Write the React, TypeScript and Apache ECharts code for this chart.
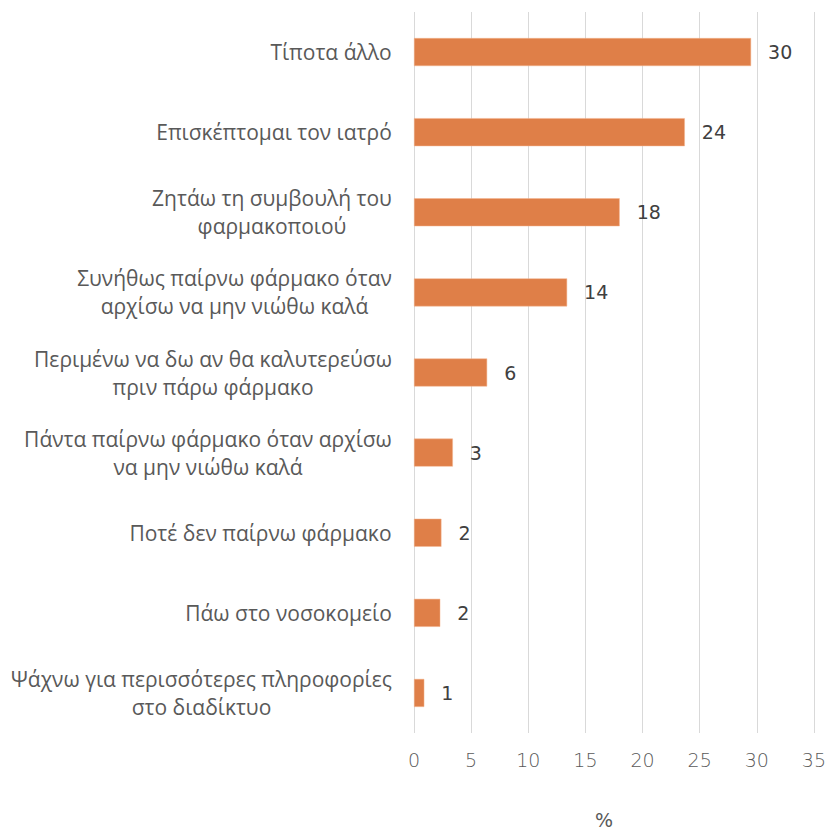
import React, { useEffect, useRef } from "react";
import * as echarts from "echarts";

const categories = [
  "Τίποτα άλλο",
  "Επισκέπτομαι τον ιατρό",
  "Ζητάω τη συμβουλή του\nφαρμακοποιού",
  "Συνήθως παίρνω φάρμακο όταν\nαρχίσω να μην νιώθω καλά",
  "Περιμένω να δω αν θα καλυτερεύσω\nπριν πάρω φάρμακο",
  "Πάντα παίρνω φάρμακο όταν αρχίσω\nνα μην νιώθω καλά",
  "Ποτέ δεν παίρνω φάρμακο",
  "Πάω στο νοσοκομείο",
  "Ψάχνω για περισσότερες πληροφορίες\nστο διαδίκτυο",
];
const values = [29.5, 23.7, 18.0, 13.4, 6.4, 3.4, 2.4, 2.3, 0.9];
const valueLabels = ["30", "24", "18", "14", "6", "3", "2", "2", "1"];
const xTicks = { min: 0, max: 35, interval: 5 };
const axisName = "%";

const CAT_SIZE = 21;
const CAT_FONT = `${CAT_SIZE}px "Open Sans"`;

function measure(text: string): number {
  const c = document.createElement("canvas").getContext("2d");
  if (!c) return text.length * 10;
  c.font = CAT_FONT;
  return c.measureText(text).width;
}

export default function App() {
  const ref = useRef<HTMLDivElement>(null);
  useEffect(() => {
    if (!ref.current) return;
    const chart = echarts.init(ref.current, null, { renderer: "svg" });
    const rich: Record<string, any> = {};
    const keyOf: Record<string, string> = {};
    categories.forEach((cat, i) => {
      const w = Math.ceil(Math.max(...cat.split("\n").map(measure))) + 2;
      rich["l" + i] = {
        width: w,
        align: "center",
        fontFamily: "Open Sans",
        fontSize: CAT_SIZE,
        color: "#595959",
        lineHeight: 28,
      };
      keyOf[cat] = "l" + i;
    });
    chart.setOption({
      animation: false,
      grid: { left: 414, right: 14, top: 12, bottom: 99, containLabel: false },
      xAxis: {
        type: "value",
        min: xTicks.min,
        max: xTicks.max,
        interval: xTicks.interval,
        axisLine: { show: false },
        axisTick: { show: false },
        splitLine: { show: true, lineStyle: { color: "#d9d9d9", width: 1 } },
        axisLabel: {
          color: "#595959",
          fontSize: 19,
          fontFamily: "DejaVu Sans",
          fontWeight: 300,
          margin: 17,
        },
      },
      yAxis: {
        type: "category",
        inverse: true,
        data: categories,
        axisLine: { show: false },
        axisTick: { show: false },
        axisLabel: {
          margin: 21,
          align: "right",
          formatter: (v: string) => {
            const k = keyOf[v];
            return v
              .split("\n")
              .map((line) => `{${k}|${line}}`)
              .join("\n");
          },
          rich,
        },
      },
      graphic: [
        {
          type: "text",
          left: 595,
          top: 810,
          style: {
            text: axisName,
            fill: "#595959",
            font: '19px "DejaVu Sans"',
          },
        },
      ],
      series: [
        {
          type: "bar",
          data: values,
          barWidth: 28,
          itemStyle: {
            color: "#DF7F48",
            borderColor: "#F4B58F",
            borderWidth: 0.5,
          },
          label: {
            show: true,
            position: "right",
            distance: 17,
            color: "#404040",
            fontSize: 19,
            fontFamily: "DejaVu Sans",
            formatter: (p: any) => valueLabels[p.dataIndex],
          },
        },
      ],
    });
    return () => chart.dispose();
  }, []);
  return (
    <div
      style={{
        position: "fixed",
        left: 0,
        top: 0,
        width: 829,
        height: 832,
        background: "#fff",
      }}
    >
      <div ref={ref} style={{ width: 829, height: 832 }} />
    </div>
  );
}
